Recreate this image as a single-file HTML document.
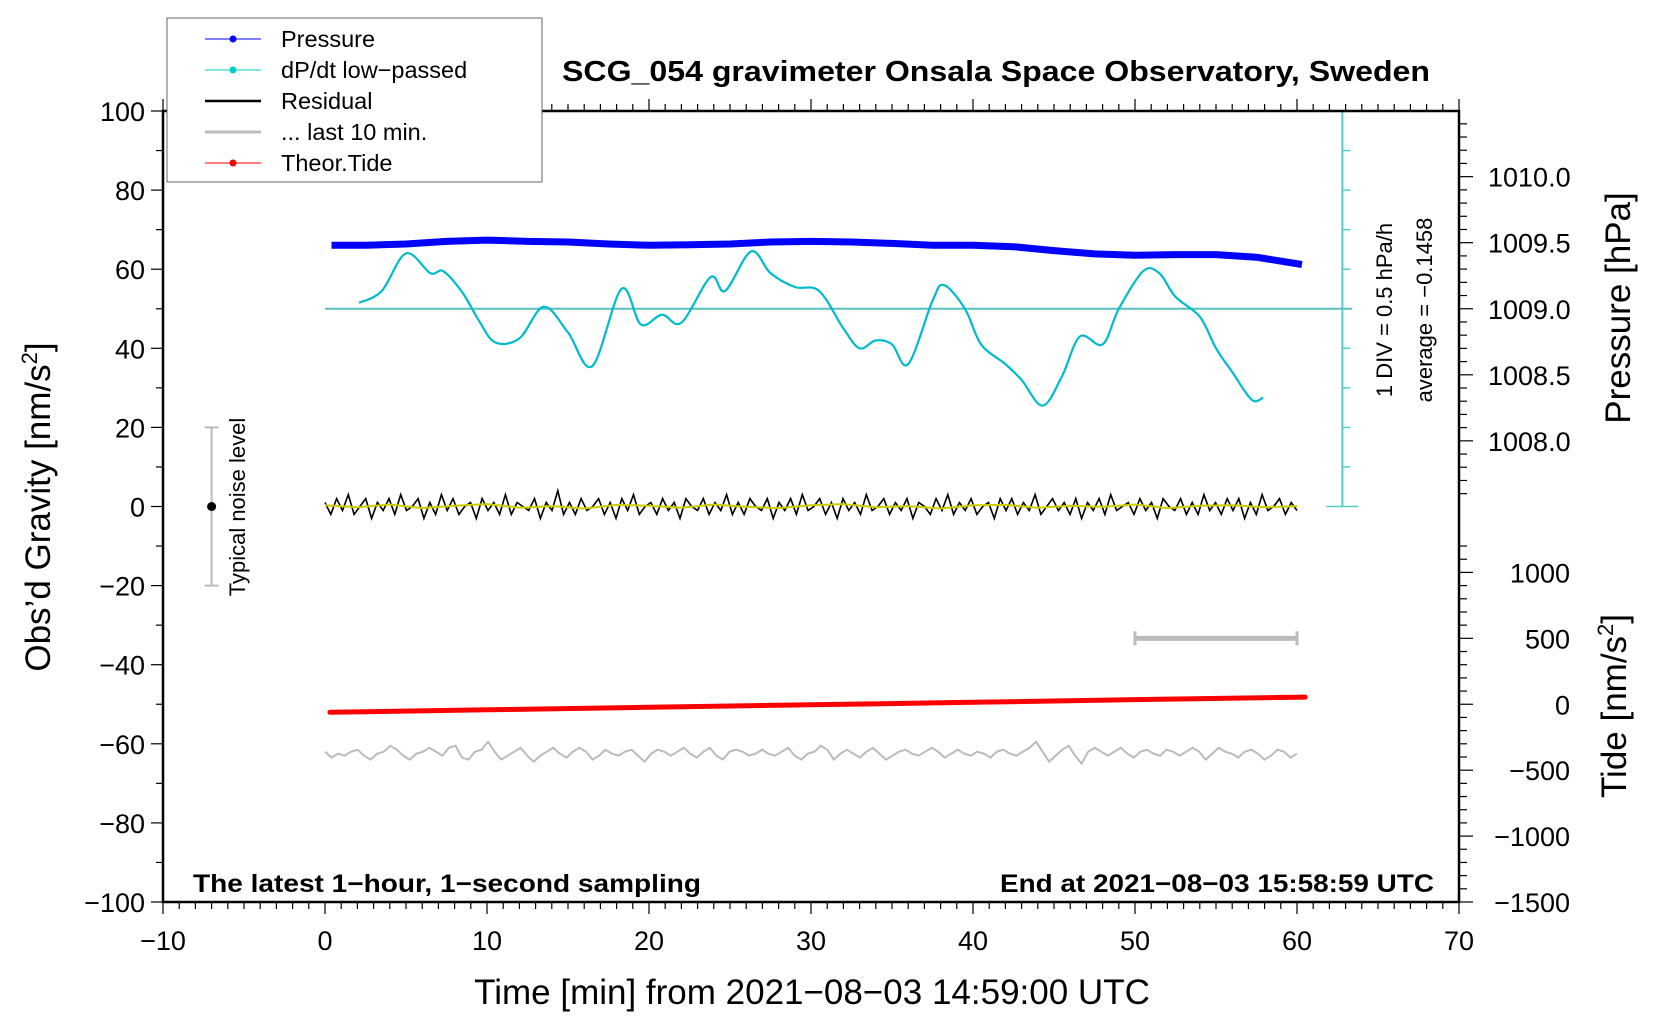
<!DOCTYPE html>
<html><head><meta charset="utf-8"><style>
html,body{margin:0;padding:0;background:#fff;}
svg{display:block;font-family:"Liberation Sans",sans-serif;}
</style></head><body>
<svg id="chart" width="1660" height="1020" viewBox="0 0 1660 1020" xmlns="http://www.w3.org/2000/svg">
<g id="plot"></g>
<g id="axes"></g>
<text x="996" y="81" text-anchor="middle" font-size="29" font-weight="bold" textLength="868" lengthAdjust="spacingAndGlyphs">SCG_054 gravimeter Onsala Space Observatory, Sweden</text>
<text x="193" y="892" font-size="25" font-weight="bold" textLength="508" lengthAdjust="spacingAndGlyphs">The latest 1−hour, 1−second sampling</text>
<text x="1434" y="892" font-size="25" font-weight="bold" text-anchor="end" textLength="434" lengthAdjust="spacingAndGlyphs">End at 2021−08−03 15:58:59 UTC</text>
<text x="812" y="1004" font-size="35" text-anchor="middle">Time [min] from 2021−08−03 14:59:00 UTC</text>
<text transform="translate(50,507) rotate(-90)" font-size="35" text-anchor="middle">Obs’d Gravity [nm/s<tspan font-size="22" dy="-13">2</tspan><tspan dy="13">]</tspan></text>
<text transform="translate(1630,308) rotate(-90)" font-size="35" text-anchor="middle">Pressure [hPa]</text>
<text transform="translate(1626,706) rotate(-90)" font-size="35" text-anchor="middle">Tide [nm/s<tspan font-size="22" dy="-13">2</tspan><tspan dy="13">]</tspan></text>
<text transform="translate(1392,310) rotate(-90)" font-size="22" text-anchor="middle">1 DIV = 0.5 hPa/h</text>
<text transform="translate(1432,310) rotate(-90)" font-size="22" text-anchor="middle">average = −0.1458</text>
<text transform="translate(245,507) rotate(-90)" font-size="22" text-anchor="middle">Typical noise level</text>
<g>
<rect x="167" y="18" width="375" height="164" fill="#fff" stroke="#666" stroke-width="1"/>
<g><line x1="205" y1="39" x2="261" y2="39" stroke="#00f" stroke-width="1"/><circle cx="233" cy="39" r="3.5" fill="#00f"/><text x="281" y="47" font-size="23.5">Pressure</text></g>
<g><line x1="205" y1="70" x2="261" y2="70" stroke="#0cc" stroke-width="1"/><circle cx="233" cy="70" r="3.5" fill="#0cc"/><text x="281" y="78" font-size="23.5">dP/dt low−passed</text></g>
<g><line x1="205" y1="101" x2="261" y2="101" stroke="#000" stroke-width="2.5"/><text x="281" y="109" font-size="23.5">Residual</text></g>
<g><line x1="205" y1="132" x2="261" y2="132" stroke="#bbb" stroke-width="3"/><text x="281" y="140" font-size="23.5">... last 10 min.</text></g>
<g><line x1="205" y1="163" x2="261" y2="163" stroke="#f00" stroke-width="1"/><circle cx="233" cy="163" r="3.5" fill="#f00"/><text x="281" y="171" font-size="23.5">Theor.Tide</text></g>
</g>
</svg>
<script>
// ---- data ----
const xTicks=[-10,0,10,20,30,40,50,60,70];
const yTicks=[100,80,60,40,20,0,-20,-40,-60,-80,-100];
const pTicks=["1010.0","1009.5","1009.0","1008.5","1008.0"];
const tideTicks=[1000,500,0,-500,-1000,-1500];
const pressT=[0.4,2.5,5,7.5,10,12.5,15,17.5,20,22.5,25,27.5,30,32.5,35,37.5,40,42.5,45,47.5,50,52.5,55,57.5,60.3];
const pressHpa=[1009.48,1009.48,1009.49,1009.51,1009.52,1009.51,1009.505,1009.49,1009.48,1009.485,1009.49,1009.505,1009.51,1009.505,1009.495,1009.48,1009.48,1009.47,1009.44,1009.415,1009.405,1009.41,1009.41,1009.39,1009.335];
const dpT=[2.1,3.5,5,6.5,7.3,8.5,9.5,10.5,12,13.5,15,16.5,18.3,19.5,20.8,22,23.8,24.7,26.3,27.5,29,30.5,32,33,34,35,36,37.5,38.2,39.5,40.5,42,43,44.3,45.5,46.6,48,49,50.5,51.5,52.5,54,55,56,57.2,57.9];
const dpV=[51.5,54.5,64,59,59.5,54,47,41.5,42.5,50.5,44,35.5,55,46,48.5,46.5,58,54.5,64.5,59,55.5,54.5,45,40,42,41,36,52,56,50,41,36,32,25.5,33,43,41,50,59.5,59,53,48,40,34,27,27.5];
const resid=[1,-2,2,-1,3,-2,0,2,-3,1,-1,2,-2,3,-1,0,2,-3,1,-2,3,-1,2,-2,0,1,-3,2,-1,1,-2,3,-2,1,0,-1,2,-3,1,-1,4,-2,1,-2,2,-1,0,2,-2,1,-3,2,-1,3,-2,0,1,-2,2,-1,1,-3,2,0,-1,2,-2,1,-1,3,-2,1,-2,2,0,-1,2,-3,1,-1,2,-2,3,-1,0,2,-2,1,-3,2,-1,1,-2,3,-1,0,2,-2,1,-1,2,-3,1,0,-2,2,-1,3,-2,1,-1,2,-2,0,1,-3,2,-1,2,-2,1,-1,3,-2,0,2,-1,1,-2,2,-3,1,-1,2,-2,3,-1,0,1,-2,2,-1,1,-3,2,0,-1,2,-2,1,-2,3,-1,1,-2,2,-1,2,-3,1,-2,3,-1,0,2,-2,1,-1];
const smooth=[0.3,-0.2,0.5,-0.4,0.2,0.6,-0.3,0.1,-0.5,0.4,0.2,-0.3,0.5,-0.1,-0.4,0.3,0.6,-0.2,0.1,-0.5,0.3,0.4,-0.3,0.2,-0.1,0.5,-0.4,0.2,0.3,-0.2,0.1];
const last10=[-62,-63.5,-62.5,-63,-62,-61.5,-63,-64,-62.5,-62,-60.5,-61.5,-63,-64,-62.5,-62,-61,-62,-63,-61,-60.5,-63.5,-64,-62,-61.5,-59.5,-62,-64,-63,-62,-61,-63,-64.5,-63,-62,-61,-62.5,-63.5,-62,-61,-62,-64,-63,-61.5,-62.5,-63,-62,-61.5,-63,-64.5,-62.5,-61.5,-62,-63,-62,-61,-62.5,-63.5,-62,-61,-63,-64,-62,-61.5,-62,-63,-62.5,-61.5,-62.5,-63,-62,-61,-63,-64,-62.5,-62,-60.5,-61.5,-64,-62.5,-61.5,-62.5,-63.5,-62,-61,-62.5,-64,-63,-62,-61.5,-62.5,-63,-62,-61,-62,-63.5,-62.5,-61.5,-62.5,-63,-62,-62.5,-63.5,-62,-61.5,-62.5,-63,-62,-61,-59.5,-62,-64.5,-63,-61.5,-60.5,-63,-65,-62,-61,-62,-63,-62,-61,-62.5,-63.5,-62,-61.5,-62.5,-63,-61.5,-62,-63,-62,-61,-62,-64,-62.5,-61,-62,-62.5,-63.5,-62,-61.5,-62.5,-64,-63,-61.5,-62,-63.5,-62.5];
const tideT=[0.3,10,20,30,40,50,60.5];
const tideV=[-61,-42,-23,-4,15,35,54];
const noiseCenter=[-7,0];
const noiseRange=[20,-20];
const last10Bar=[50,60,500];
// ---- axes ----
const X=t=>325+t*16.2;
const Y=v=>111+(100-v)*3.955;
const P=p=>Y(50+(p-1009)*33.4);
const T=t=>Y(-50+t/30);
const NS="http://www.w3.org/2000/svg";
const plot=document.getElementById('plot'), axes=document.getElementById('axes');
function mk(tag,attrs,parent){const e=document.createElementNS(NS,tag);for(const k in attrs)e.setAttribute(k,attrs[k]);parent.appendChild(e);return e;}
function path(xs,ys,fx,fy){return xs.map((x,i)=>(i?'L':'M')+fx(x).toFixed(1)+' '+fy(ys[i]).toFixed(1)).join('');}
function smoothPath(xs,ys){const p=xs.map((x,i)=>[X(x),Y(ys[i])]);let d='M'+p[0][0]+' '+p[0][1];for(let i=0;i<p.length-1;i++){const a=p[Math.max(0,i-1)],b=p[i],c=p[i+1],e=p[Math.min(p.length-1,i+2)];d+=' C'+(b[0]+(c[0]-a[0])/6)+' '+(b[1]+(c[1]-a[1])/6)+' '+(c[0]-(e[0]-b[0])/6)+' '+(c[1]-(e[1]-b[1])/6)+' '+c[0]+' '+c[1];}return d;}
function even(arr,t0,t1){return arr.map((_,i)=>t0+(t1-t0)*i/(arr.length-1));}
// frame
let e=mk('rect',{x:X(-10),y:Y(100),width:X(70)-X(-10),height:Y(-100)-Y(100),fill:'none',stroke:'#000','stroke-width':2.5},axes);


// x ticks
for(let t=-10;t<=70;t++){const maj=t%10===0;mk('line',{x1:X(t),x2:X(t),y1:Y(-100),y2:Y(-100)+(maj?12:7),stroke:'#000','stroke-width':1.2},axes);mk('line',{x1:X(t),x2:X(t),y1:Y(100),y2:Y(100)-(maj?12:7),stroke:'#000','stroke-width':1.2},axes);}
xTicks.forEach(t=>{const l=mk('text',{x:X(t),y:950,'font-size':27,'text-anchor':'middle'},axes);l.textContent=(t<0?'−':'')+Math.abs(t);

});
for(let v=-100;v<=100;v+=10){mk('line',{x1:X(-10),x2:X(-10)-(v%20===0?12:7),y1:Y(v),y2:Y(v),stroke:'#000','stroke-width':1.2},axes);}
yTicks.forEach(v=>{const l=mk('text',{x:X(-10)-18,y:Y(v)+10,'font-size':27,'text-anchor':'end'},axes);l.textContent=(v<0?'−':'')+Math.abs(v);

});
// pressure ticks
for(let i=0;i<=30;i++){const p=1007.6+i*0.1;const y=P(p);if(y<Y(100)||y>Y(0)+40)continue;const maj=Math.abs((p*2)-Math.round(p*2))<1e-6;mk('line',{x1:X(70),x2:X(70)+(maj?14:8),y1:y,y2:y,stroke:'#000','stroke-width':1.2},axes);}
pTicks.forEach(s=>{const l=mk('text',{x:1488,y:P(parseFloat(s))+10,'font-size':27},axes);l.textContent=s;

});
// tide ticks
for(let t=-1500;t<=1200;t+=100){const y=T(t);if(y<Y(0)+20)continue;mk('line',{x1:X(70),x2:X(70)+(t%500===0?14:8),y1:y,y2:y,stroke:'#000','stroke-width':1.2},axes);}
tideTicks.forEach(t=>{const l=mk('text',{x:1570,y:T(t)+10,'font-size':27,'text-anchor':'end'},axes);l.textContent=(t<0?'−':'')+Math.abs(t);

});
// cyan scale bar
const sx=X(62.8);
e=mk('g',{},plot);


mk('line',{x1:sx,x2:sx,y1:Y(100),y2:Y(0),stroke:'#5cc','stroke-width':2},e);
for(let v=0;v<=100;v+=10){const end=(v===0||v===100);mk('line',{x1:sx-(end?16:0),x2:sx+(end?16:8),y1:Y(v),y2:Y(v),stroke:'#5cc','stroke-width':1.5},e);}
// mean line
e=mk('line',{x1:X(0),x2:X(63.4),y1:Y(50),y2:Y(50),stroke:'#5bbfbf','stroke-width':2},plot);


// pressure
e=mk('path',{d:path(pressT,pressHpa,X,P),fill:'none',stroke:'#00f','stroke-width':7,'stroke-linejoin':'round'},plot);


// dp/dt
e=mk('path',{d:smoothPath(dpT,dpV),fill:'none',stroke:'#0bc','stroke-width':2.2},plot);


// residual
e=mk('path',{d:path(even(resid,0,60),resid,X,Y),fill:'none',stroke:'#000','stroke-width':1.6},plot);


e=mk('path',{d:path(even(smooth,0,60),smooth,X,Y),fill:'none',stroke:'#cc0','stroke-width':2},plot);


// tide
e=mk('path',{d:path(tideT,tideV,X,T),fill:'none',stroke:'#f00','stroke-width':5,'stroke-linecap':'round'},plot);


// last 10
e=mk('path',{d:path(even(last10,0,60),last10,X,Y),fill:'none',stroke:'#bbb','stroke-width':2},plot);


// last10 bar
e=mk('g',{},plot);


mk('line',{x1:X(last10Bar[0]),x2:X(last10Bar[1]),y1:T(last10Bar[2]),y2:T(last10Bar[2]),stroke:'#bbb','stroke-width':5},e);
[last10Bar[0],last10Bar[1]].forEach(t=>mk('line',{x1:X(t),x2:X(t),y1:T(last10Bar[2])-7,y2:T(last10Bar[2])+7,stroke:'#bbb','stroke-width':3},e));
// noise bar
e=mk('g',{},plot);


const nx=X(noiseCenter[0]);
mk('line',{x1:nx,x2:nx,y1:Y(noiseRange[0]),y2:Y(noiseRange[1]),stroke:'#bbb','stroke-width':2},e);
noiseRange.forEach(v=>mk('line',{x1:nx-7,x2:nx+7,y1:Y(v),y2:Y(v),stroke:'#bbb','stroke-width':2},e));
mk('circle',{cx:nx,cy:Y(noiseCenter[1]),r:4.5,fill:'#000'},e);
</script>
</body></html>
